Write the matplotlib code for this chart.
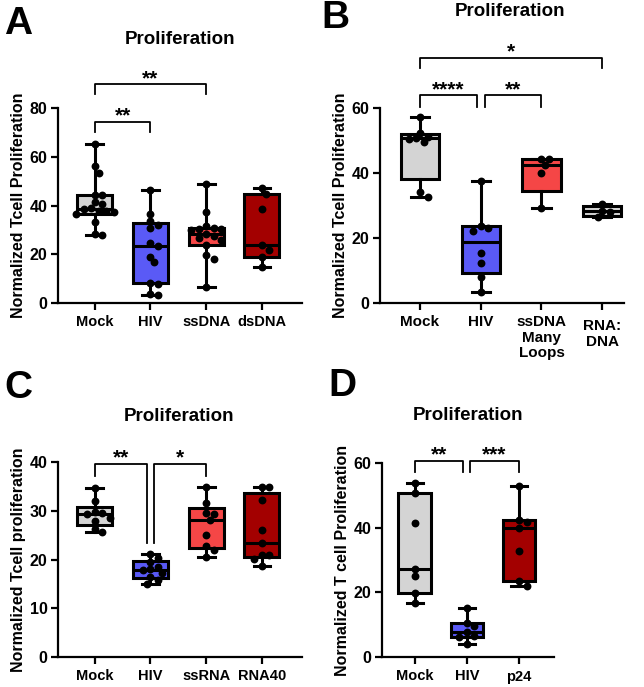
import numpy as np
import matplotlib
matplotlib.use("Agg")
import matplotlib.pyplot as plt
from matplotlib.transforms import ScaledTranslation

plt.rcParams["font.family"] = ["Liberation Sans", "DejaVu Sans"]
plt.rcParams["font.weight"] = "bold"
plt.rcParams["axes.labelweight"] = "bold"

GRAY = "#d4d4d4"
BLUE = "#5a5af6"
RED = "#f54646"
DARKRED = "#a30000"

# Panel A
a_groups = ["Mock", "HIV", "ssDNA", "dsDNA"]
a_mock = [28.0, 28.2, 33.3, 36.5, 37.2, 38.0, 38.0, 38.5, 39.0, 40.5, 41.5, 44.2, 44.5, 53.6, 56.2, 65.3]
a_hiv = [3.3, 3.7, 7.8, 8.4, 16.7, 19.0, 23.6, 24.5, 30.8, 32.0, 33.8, 36.6, 46.4]
a_ssdna = [6.4, 17.9, 19.7, 23.8, 26.0, 26.6, 27.4, 28.5, 30.0, 30.3, 30.5, 30.7, 31.5, 37.5, 48.9]
a_dsdna = [14.9, 18.9, 21.8, 23.9, 38.5, 44.6, 47.1]

# Panel B
b_groups = ["Mock", "HIV", "ssDNA\nMany\nLoops", "RNA:\nDNA"]
b_mock = [32.8, 34.3, 49.5, 50.6, 50.9, 51.2, 52.5, 57.2]
b_hiv = [3.5, 8.1, 12.2, 15.3, 22.2, 23.2, 23.7, 37.6]
b_ssdna = [29.2, 40.0, 42.6, 44.3, 44.3]
b_rnadna = [26.6, 28.0, 28.5, 30.5]

# Panel C
c_groups = ["Mock", "HIV", "ssRNA", "RNA40"]
c_mock = [25.6, 26.2, 28.0, 28.5, 29.3, 29.5, 29.7, 32.0, 34.8]
c_hiv = [15.1, 15.8, 16.4, 17.2, 17.9, 18.0, 18.5, 19.5, 20.3, 21.2]
c_ssrna = [20.6, 22.0, 22.9, 25.1, 28.2, 29.3, 29.5, 31.6, 34.9]
c_rna40 = [18.6, 20.1, 21.0, 21.0, 23.5, 26.1, 32.3, 34.9, 35.0]

# Panel D
d_groups = ["Mock", "HIV", "p24"]
d_mock = [16.6, 19.8, 25.1, 27.3, 41.4, 50.9, 53.8]
d_hiv = [4.0, 6.3, 6.5, 7.8, 9.6, 10.4, 15.1]
d_p24 = [22.1, 23.6, 32.9, 39.9, 41.9, 42.5, 53.0]


def box_stats(values):
    v = np.asarray(values)
    q1, med, q3 = np.percentile(v, [25, 50, 75], method="weibull")
    return {"med": med, "q1": q1, "q3": q3,
            "whislo": v.min(), "whishi": v.max(), "fliers": []}


def swarm(ax, x0, values, diam_px=7.5):
    # simple beeswarm placement in pixel space
    trans = ax.transData
    ypix = [trans.transform((x0, v))[1] for v in values]
    per_unit = trans.transform((x0 + 1, 0))[0] - trans.transform((x0, 0))[0]
    placed = []
    out = [0.0] * len(values)
    for i in np.argsort(values)[::-1]:
        y = ypix[i]
        for k in range(20):
            cands = [0.0] if k == 0 else [k * diam_px * 0.5, -k * diam_px * 0.5]
            ok = None
            for c in cands:
                if all((c - px) ** 2 + (y - py) ** 2 >= (diam_px * 0.85) ** 2 for px, py in placed):
                    ok = c
                    break
            if ok is not None:
                placed.append((ok, y))
                out[i] = x0 + ok / per_unit
                break
    return out


def panel(ax, groups, data, colors, ylim, yticks, ylabel, xlim, xfs=10.5):
    ax.set_xlim(*xlim)
    ax.set_ylim(*ylim)
    pos = list(range(len(groups)))
    stats = [box_stats(d) for d in data]
    bp = ax.bxp(stats, positions=pos, widths=0.63, patch_artist=True,
                showfliers=False, capwidths=0.3,
                boxprops=dict(linewidth=2.2, edgecolor="black"),
                medianprops=dict(color="black", linewidth=2.2),
                whiskerprops=dict(color="black", linewidth=2.2),
                capprops=dict(color="black", linewidth=2.2))
    for patch, c in zip(bp["boxes"], colors):
        patch.set_facecolor(c)
    for p, d in zip(pos, data):
        xs = swarm(ax, p, d)
        ax.scatter(xs, d, s=32, color="black", zorder=5, linewidths=0)
    ax.set_xticks(pos)
    ax.set_xticklabels(groups, fontsize=xfs, linespacing=1.1)
    ax.set_yticks(yticks)
    ax.tick_params(axis="y", labelsize=11.5, width=1.6, length=5, pad=2.5)
    ax.tick_params(axis="x", width=1.6, length=5, pad=4)
    ax.spines["top"].set_visible(False)
    ax.spines["right"].set_visible(False)
    ax.spines["left"].set_linewidth(1.6)
    ax.spines["bottom"].set_linewidth(1.6)
    ax.set_ylabel(ylabel, fontsize=11.5, labelpad=3)


def bracket(ax, x1, x2, y, h1, h2, label, fs=15):
    ax.plot([x1, x1, x2, x2], [y - h1, y, y, y - h2], color="black",
            linewidth=1.3, clip_on=False)
    ax.text((x1 + x2) / 2, y, label, ha="center", va="baseline",
            fontsize=fs, fontweight="bold")


fig = plt.figure(figsize=(6.44, 6.87), dpi=100)
W, H = 644.0, 687.0


def add_axes(x0, x1, ytop, ybot):
    return fig.add_axes([x0 / W, 1 - ybot / H, (x1 - x0) / W, (ybot - ytop) / H])


axA = add_axes(58, 302, 108.3, 303)
axB = add_axes(380, 624, 108.3, 303)
axC = add_axes(58, 302, 462.3, 657)
axD = add_axes(382, 554, 463.3, 657)

panel(axA, a_groups, [a_mock, a_hiv, a_ssdna, a_dsdna], [GRAY, BLUE, RED, DARKRED],
      (0, 80), [0, 20, 40, 60, 80], "Normalized Tcell Proliferation", (-0.66, 3.72))
panel(axB, b_groups, [b_mock, b_hiv, b_ssdna, b_rnadna], [GRAY, BLUE, RED, GRAY],
      (0, 60), [0, 20, 40, 60], "Normalized Tcell Proliferation", (-0.66, 3.36), xfs=11)
panel(axC, c_groups, [c_mock, c_hiv, c_ssrna, c_rna40], [GRAY, BLUE, RED, DARKRED],
      (0, 40), [0, 10, 20, 30, 40], "Normalized Tcell proliferation", (-0.66, 3.72))
panel(axD, d_groups, [d_mock, d_hiv, d_p24], [GRAY, BLUE, DARKRED],
      (0, 60), [0, 20, 40, 60], "Normalized T cell Proliferation", (-0.63, 2.67))

# "RNA:DNA" label sits a little lower than the others
lab = axB.get_xticklabels()[3]
lab.set_transform(lab.get_transform() + ScaledTranslation(0, -4 / 100, fig.dpi_scale_trans))

for x, y in [(180, 39), (510, 12), (179, 416), (468, 415)]:
    fig.text(x / W, 1 - y / H, "Proliferation", fontsize=13.5, fontweight="bold",
             ha="center", va="center")

bracket(axA, 0, 1, 74.5, 4.1, 4.1, "**")
bracket(axA, 0, 2, 90.0, 4.3, 4.3, "**")
bracket(axB, 0, 0.93, 64.1, 3.6, 3.6, "****")
bracket(axB, 1.07, 2, 64.1, 3.6, 3.6, "**")
bracket(axB, 0, 3, 75.6, 3.3, 3.3, "*")
bracket(axC, 0, 0.94, 39.7, 2.6, 16.3, "**")
bracket(axC, 1.07, 2, 39.7, 16.3, 2.6, "*")
bracket(axD, 0, 0.92, 60.8, 3.4, 3.4, "**")
bracket(axD, 1.05, 2, 60.8, 3.4, 3.4, "***")

for letter, x, y in [("A", 4, 6), ("B", 321, 0), ("C", 4, 370), ("D", 328, 368)]:
    fig.text(x / W, 1 - y / H, letter, fontsize=28, fontweight="bold", va="top", ha="left")

fig.savefig("out.png", dpi=100)
